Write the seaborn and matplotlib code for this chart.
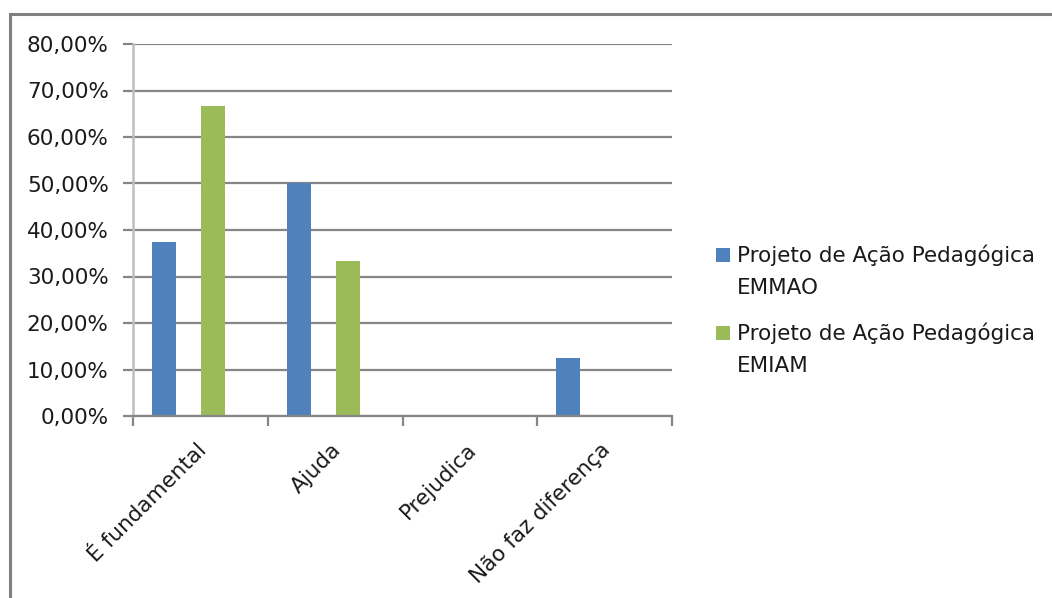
import matplotlib
matplotlib.use("Agg")
import matplotlib.pyplot as plt
import seaborn as sns
import pandas as pd
from matplotlib.patches import Rectangle
from matplotlib.legend_handler import HandlerPatch
from matplotlib.ticker import FuncFormatter, FixedLocator

categories = ["É fundamental", "Ajuda", "Prejudica", "Não faz diferença"]
series_names = ["Projeto de Ação Pedagógica\nEMMAO", "Projeto de Ação Pedagógica\nEMIAM"]
emmao = [37.5, 50.0, 0.0, 12.5]
emiam = [66.7, 33.3, 0.0, 0.0]
yticks = [0, 10, 20, 30, 40, 50, 60, 70, 80]
colors = ["#4F81BD", "#9BBB59"]

df = pd.DataFrame({
    "cat": categories * 2,
    "serie": [series_names[0]] * 4 + [series_names[1]] * 4,
    "val": emmao + emiam,
})

sns.set_theme(style="white")
plt.rcParams["font.family"] = ["DejaVu Sans"]

FS = 15.5
TXT = "#1a1a1a"

fig = plt.figure(figsize=(10.52, 5.98), dpi=100)
ax = fig.add_axes([133 / 1052, 1 - 416 / 598, (672 - 133) / 1052, (416 - 44) / 598])

sns.barplot(data=df, x="cat", y="val", hue="serie", palette=colors,
            width=0.726, gap=0.51, ax=ax, saturation=1, legend=True,
            linewidth=0, edgecolor="none")

# the bar pairs sit slightly left of the category centres in the original
off = 0.089
ax.set_ylim(0, 80)
ax.set_xlim(-0.5 + off, 3.5 + off)
ax.yaxis.set_major_locator(FixedLocator(yticks))
ax.yaxis.set_major_formatter(FuncFormatter(lambda v, p: f"{v:.2f}".replace(".", ",") + "%"))
ax.grid(axis="y", color="#868686", linewidth=1.6)
ax.set_axisbelow(True)
ax.set_xlabel("")
ax.set_ylabel("")

for s in ["top", "right"]:
    ax.spines[s].set_visible(False)
ax.spines["left"].set_color("#BFBFBF")
ax.spines["left"].set_linewidth(1.8)
ax.spines["bottom"].set_color("#868686")
ax.spines["bottom"].set_linewidth(1.6)

ax.tick_params(axis="y", length=7.5, width=1.6, color="#868686", pad=10,
               labelsize=FS, labelcolor=TXT, left=True)
ax.set_xticks([i + off - 0.03 for i in range(len(categories))])
ax.set_xticklabels(categories, rotation=45, ha="right", rotation_mode="anchor",
                   fontsize=FS, color=TXT)
ax.tick_params(axis="x", which="major", length=0, pad=17)
ax.set_xticks([-0.5 + off + k for k in range(5)], minor=True)
ax.tick_params(axis="x", which="minor", length=7, width=1.6, color="#868686", bottom=True)


def top_square(legend, orig_handle, xdescent, ydescent, width, height, fontsize):
    # square aligned with the first line of a two-line label
    return Rectangle((-xdescent, -ydescent + 12.0), width, height)


handles, labels = ax.get_legend_handles_labels()
leg = ax.legend(handles, labels, loc="upper left",
                bbox_to_anchor=(697 / 1052, 1 - 225 / 598),
                bbox_transform=fig.transFigure, frameon=False, fontsize=FS,
                handlelength=0.62, handleheight=0.62, handletextpad=0.35,
                labelspacing=1.13,
                handler_map={h: HandlerPatch(patch_func=top_square) for h in handles})
for t in leg.get_texts():
    t.set_color(TXT)
    t.set_linespacing(1.75)
for h in leg.legend_handles:
    h.set_linewidth(0)

fig.patches.append(Rectangle((10 / 1052, -0.1), 1.2, 1 - 14 / 598 + 0.1,
                             transform=fig.transFigure, fill=False,
                             edgecolor="#808080", linewidth=2.2))

fig.savefig("out.png", dpi=100)
